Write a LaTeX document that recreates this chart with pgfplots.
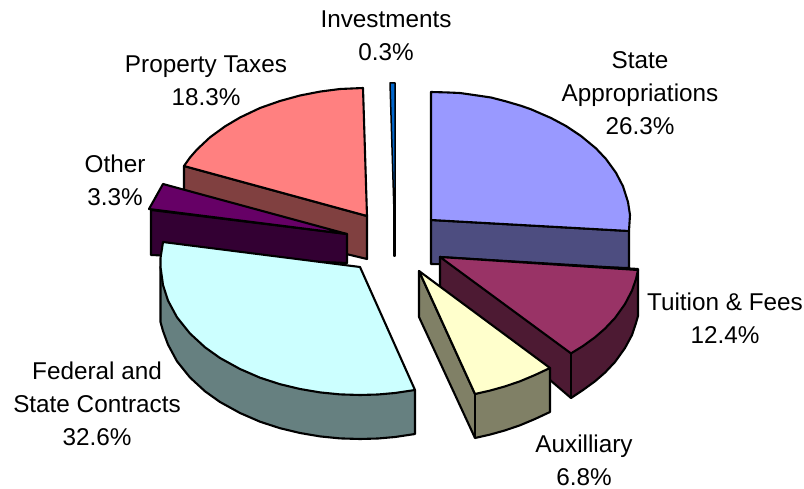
\documentclass[border=0pt]{standalone}
\usepackage{pgfplots}
\pgfplotsset{compat=1.18}
\usepackage{fontspec}
\setmainfont{Liberation Sans}
\definecolor{stT}{HTML}{9999FF}\definecolor{stS}{HTML}{4D4D80}
\definecolor{tuT}{HTML}{993366}\definecolor{tuS}{HTML}{4D1A33}
\definecolor{auT}{HTML}{FFFFCC}\definecolor{auS}{HTML}{808066}
\definecolor{feT}{HTML}{CCFFFF}\definecolor{feS}{HTML}{668080}
\definecolor{otT}{HTML}{660066}\definecolor{otS}{HTML}{330033}
\definecolor{prT}{HTML}{FF8080}\definecolor{prS}{HTML}{804040}
\definecolor{inT}{HTML}{0066CC}\definecolor{inS}{HTML}{003366}
\tikzset{lab/.style={font=\fontsize{24.3}{33}\selectfont,align=center,anchor=center,text=black,inner sep=0pt}}
\begin{document}
\begin{tikzpicture}
\begin{axis}[
  name=a,
  width=804pt,height=489pt,scale only axis,
  xmin=0,xmax=804,ymin=0,ymax=489,y dir=reverse,
  axis lines=none,clip=false,
  every axis plot/.append style={draw=black,line width=2.1pt,line join=round,mark=none},
]
% Investments
\addplot[fill=inS] coordinates {(394,212)(395,212)(395,256)(394,256)} -- cycle;
\addplot[fill=inT,line width=1.5pt] coordinates {(390,83)(395,83)(395,212)(394,212)} -- cycle;
% Property Taxes
\addplot[fill=prS] coordinates {(184,166)(367,216)(367,259)(184,215)} -- cycle;
\addplot[fill=prT] coordinates {(367,216)(363,88)(340,89)(320,91.6)(300,95.5)(280,101)(260,108)(240,117.5)(225,126.4)(210,137.3)(197,149.5)(190,157.5)(184,166)} -- cycle;
% State Appropriations
\addplot[fill=stS] coordinates {(431,220)(629,231)(629,268)(431,264)} -- cycle;
\addplot[fill=stT] coordinates {(431,220)(431,92)(446,92.4)(460,93)(476,95.3)(491,97.5)(506,101.4)(521,105.8)(531,109.3)(551,118)(566,126)(581,136)(596,148.4)(606,159)(616,172.8)(623,186.3)(628,202)(630,215)(629,231)} -- cycle;
% Other
\addplot[fill=otS] coordinates {(151,210)(347,234)(347,263)(151,255)} -- cycle;
\addplot[fill=otT] coordinates {(163,184)(347,234)(149,209)} -- cycle;
% Federal
\addplot[fill=feS] coordinates {(415,390)(415,434)(395,437)(378,438.5)(360,439)(340,438.4)(320,436.4)(300,433)(280,428.2)(260,421.7)(240,413)(220,402)(205,391.3)(190,377.5)(177,361.3)(168,344.6)(163,331)(160.5,322)(160.5,267)} -- cycle;
\addplot[fill=feT] coordinates {(163,242)(360,267)(415,390)(395,393)(378,394.5)(360,395)(340,394.4)(320,392.4)(300,389)(280,384.2)(260,377.7)(240,369)(220,358)(205,347.3)(190,333.5)(177,317.3)(168,300.6)(163,285)(160.5,267)(160.5,258)} -- cycle;
% Tuition
\addplot[fill=tuS] coordinates {(440,257)(440,301)(550,380)(571,398)(583,390)(595,381.3)(605,372.6)(615,362)(625,348)(632,335)(636,323)(638,316)(638,269)} -- cycle;
\addplot[fill=tuT] coordinates {(440,257)(638,270)(636,279)(632,290.6)(625,304)(615,318)(605,328.6)(595,337.3)(583,346)(571,353.4)} -- cycle;
\addplot[forget plot] coordinates {(571,353.4)(571,398)};
% Auxiliary
\addplot[fill=auS] coordinates {(419,271)(419,317)(475,438)(490,434.6)(505,430.4)(520,425.3)(535,419)(550,412)(550,368)(475,394)} -- cycle;
\addplot[fill=auT] coordinates {(419,271)(550,368)(535,375)(520,381.3)(505,386.4)(490,390.6)(475,394)} -- cycle;
\addplot[forget plot] coordinates {(475,394)(475,438)};
% Labels
\node[lab] at (axis cs:386,36) {Investments\\0.3\%};
\node[lab] at (axis cs:206,81) {Property Taxes\\18.3\%};
\node[lab] at (axis cs:115,180) {Other\\3.3\%};
\node[lab] at (axis cs:640,93.5) {State\\Appropriations\\26.3\%};
\node[lab] at (axis cs:725,318) {Tuition \& Fees\\12.4\%};
\node[lab] at (axis cs:584,460) {Auxilliary\\6.8\%};
\node[lab] at (axis cs:97,404) {Federal and\\State Contracts\\32.6\%};
\end{axis}
\pgfresetboundingbox
\path[use as bounding box] (a.north west) rectangle (a.south east);
\end{tikzpicture}
\end{document}
